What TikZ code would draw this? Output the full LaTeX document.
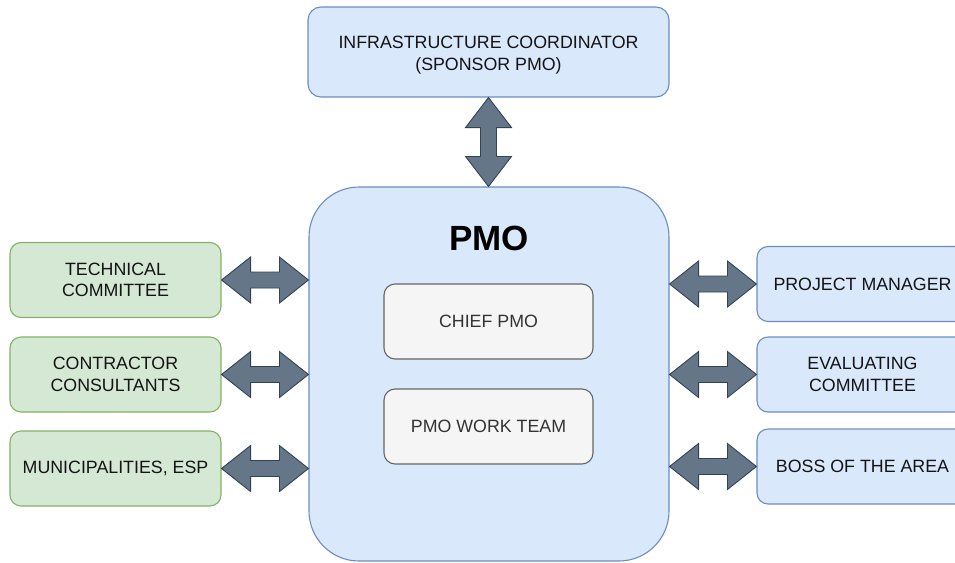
\documentclass[tikz,border=0pt]{standalone}
\usepackage{fontspec}
\setmainfont{Liberation Sans}
\usetikzlibrary{calc}

\definecolor{bluefill}{HTML}{DAE8FC}
\definecolor{bluedraw}{HTML}{6C8EBF}
\definecolor{greenfill}{HTML}{D5E8D4}
\definecolor{greendraw}{HTML}{82B366}
\definecolor{grayfill}{HTML}{F5F5F5}
\definecolor{graydraw}{HTML}{666666}
\definecolor{arrowfill}{HTML}{647687}
\definecolor{arrowdraw}{HTML}{314354}
\definecolor{textdark}{HTML}{141414}
\definecolor{textgray}{HTML}{333333}

\tikzset{
  box/.style={rectangle, rounded corners=11pt, line width=1.1pt,
    minimum width=211pt, minimum height=75pt, align=center, inner sep=0pt,
    font=\fontsize{17.8}{21.5}\selectfont, text=textdark},
  bluebox/.style={box, fill=bluefill, draw=bluedraw},
  greenbox/.style={box, fill=greenfill, draw=greendraw},
  graybox/.style={box, fill=grayfill, draw=graydraw, text=textgray, minimum width=209pt},
  boxtext/.style={align=center, inner sep=0pt, font=\fontsize{17.8}{21.5}\selectfont, text=textdark},
  blockarrow/.style={fill=arrowfill, draw=arrowdraw, line width=0.9pt, line join=miter},
}

% horizontal double block arrow between the east side of #1 and the west side of #2,
% at the height of the centre of #3
\newcommand\hblockarrow[3]{%
  \path[blockarrow] let \p1=(#1.east |- #3.center), \p2=(#2.west |- #3.center) in
    (\x1,\y1) -- (\x1+29pt,\y1+23pt) -- (\x1+29pt,\y1+8pt) -- (\x2-29pt,\y1+8pt)
    -- (\x2-29pt,\y1+23pt) -- (\x2,\y1) -- (\x2-29pt,\y1-23pt) -- (\x2-29pt,\y1-8pt)
    -- (\x1+29pt,\y1-8pt) -- (\x1+29pt,\y1-23pt) -- cycle;}

% vertical double block arrow from the south side of #1 to the north side of #2
\newcommand\vblockarrow[2]{%
  \path[blockarrow] let \p1=(#1.south), \p2=(#2.north -| #1.south) in
    (\x1,\y1) -- (\x1+23pt,\y1-30pt) -- (\x1+8pt,\y1-30pt) -- (\x1+8pt,\y2+30pt)
    -- (\x1+23pt,\y2+30pt) -- (\x1,\y2) -- (\x1-23pt,\y2+30pt) -- (\x1-8pt,\y2+30pt)
    -- (\x1-8pt,\y1-30pt) -- (\x1-23pt,\y1-30pt) -- cycle;}

\begin{document}
\begin{tikzpicture}[x=1pt,y=-1pt]
  \clip (0,0) rectangle (955,562);
  \fill[white] (0,0) rectangle (955,562);

  % sponsor
  \node[bluebox, minimum width=361pt, minimum height=90pt, rounded corners=13pt]
    (sponsor) at (488.5,52) {};
  \node[boxtext] (sponsortext) at (488.5,55) {INFRASTRUCTURE COORDINATOR\\(SPONSOR PMO)};

  % central PMO block
  \node[bluebox, minimum width=360pt, minimum height=374pt, rounded corners=50pt]
    (pmo) at (489,374) {};
  \node[font=\bfseries\fontsize{35}{40}\selectfont, text=black, inner sep=0pt]
    (pmotitle) at (489,238) {PMO};
  \node[graybox] (chief) at (488.5,321.5) {CHIEF PMO};
  \node[graybox] (team) at (488.5,426.5) {PMO WORK TEAM};

  % left side
  \node[greenbox] (tech) at (115.5,280) {TECHNICAL\\COMMITTEE};
  \node[greenbox] (contr) at (115.5,374.5) {CONTRACTOR\\CONSULTANTS};
  \node[greenbox] (muni) at (115.5,468.5) {MUNICIPALITIES, ESP};

  % right side
  \node[bluebox] (pm) at (862.5,284) {PROJECT MANAGER};
  \node[bluebox] (eval) at (862.5,374.5) {EVALUATING\\COMMITTEE};
  \node[bluebox] (boss) at (862.5,466.5) {BOSS OF THE AREA};

  % connectors
  \vblockarrow{sponsor}{pmo}
  \hblockarrow{tech}{pmo}{tech}
  \hblockarrow{contr}{pmo}{contr}
  \hblockarrow{muni}{pmo}{muni}
  \hblockarrow{pmo}{pm}{pm}
  \hblockarrow{pmo}{eval}{eval}
  \hblockarrow{pmo}{boss}{boss}
\end{tikzpicture}
\end{document}
